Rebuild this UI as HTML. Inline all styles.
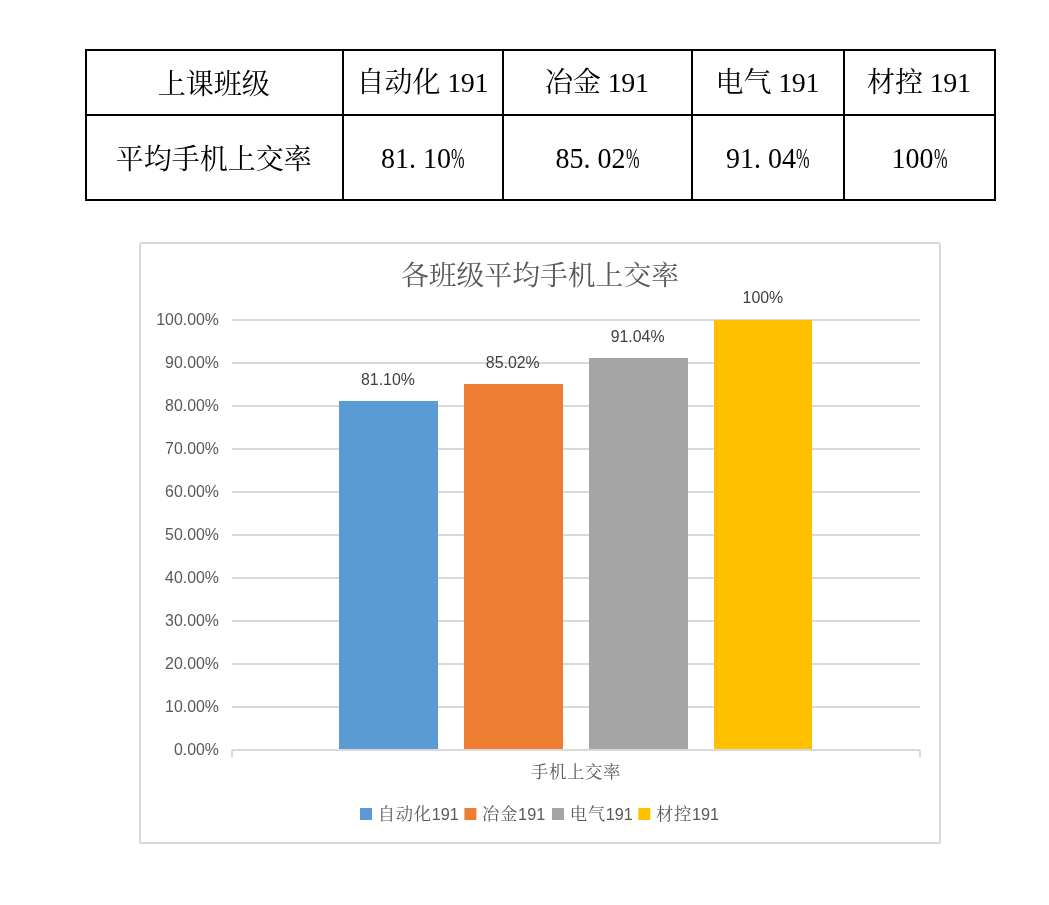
<!DOCTYPE html>
<html lang="zh-CN"><head><meta charset="utf-8"><title>各班级平均手机上交率</title>
<style>
html,body{margin:0;padding:0;background:#fff}
body{width:1049px;height:905px;position:relative;overflow:hidden;font-family:"Liberation Serif","Noto Serif CJK SC",serif}
.c{position:absolute;box-sizing:border-box;border:2px solid #000;display:flex;align-items:center;justify-content:center;font-size:28px;color:#000;white-space:pre}
.c .t{display:block;line-height:28px;transform:translate(-0.7px,-0.6px);font-family:"Noto Serif CJK SC","Liberation Serif",serif;font-weight:400}
.c .t.mm{transform:translate(0px,-0.2px)}
.tn{font-family:"Liberation Serif",serif;letter-spacing:-0.4px}
.m{display:inline-block;width:14px;text-align:center;font-family:"Liberation Serif",serif;transform:scaleY(1.06);transform-origin:50% 78%}
.m.d{text-align:left}
.m.p{transform:scale(.58,1.06);transform-origin:0 78%;text-align:left}
svg{position:absolute;left:0;top:0}
svg text{font-family:"Liberation Sans","Noto Serif CJK SC",sans-serif;font-size:15.9px;fill:#595959}
svg .g line{stroke:#d9d9d9;stroke-width:2}
svg .dl text{fill:#404040}
svg .zh{font-family:"Noto Serif CJK SC",serif;font-size:17.33px;letter-spacing:0.67px}
svg .lt{font-size:16.3px}
svg text.title{font-family:"Noto Serif CJK SC",serif;font-size:27.8px}
svg text.cat{font-family:"Noto Serif CJK SC",serif;font-size:17.33px;letter-spacing:0.67px}
</style></head><body>
<div class="c r1" style="left:85px;top:49px;width:259px;height:67px"><span class="t">上课班级</span></div>
<div class="c r2" style="left:85px;top:114px;width:259px;height:87px"><span class="t">平均手机上交率</span></div>
<div class="c r1" style="left:342px;top:49px;width:162px;height:67px"><span class="t">自动化<span class="tn"> 191</span></span></div>
<div class="c r2" style="left:342px;top:114px;width:162px;height:87px"><span class="t mm"><span class="m">8</span><span class="m">1</span><span class="m d">.</span><span class="m">1</span><span class="m">0</span><span class="m p">%</span></span></div>
<div class="c r1" style="left:502px;top:49px;width:191px;height:67px"><span class="t">冶金<span class="tn"> 191</span></span></div>
<div class="c r2" style="left:502px;top:114px;width:191px;height:87px"><span class="t mm"><span class="m">8</span><span class="m">5</span><span class="m d">.</span><span class="m">0</span><span class="m">2</span><span class="m p">%</span></span></div>
<div class="c r1" style="left:691px;top:49px;width:154px;height:67px"><span class="t">电气<span class="tn"> 191</span></span></div>
<div class="c r2" style="left:691px;top:114px;width:154px;height:87px"><span class="t mm"><span class="m">9</span><span class="m">1</span><span class="m d">.</span><span class="m">0</span><span class="m">4</span><span class="m p">%</span></span></div>
<div class="c r1" style="left:843px;top:49px;width:153px;height:67px"><span class="t">材控<span class="tn"> 191</span></span></div>
<div class="c r2" style="left:843px;top:114px;width:153px;height:87px"><span class="t mm"><span class="m">1</span><span class="m">0</span><span class="m">0</span><span class="m p">%</span></span></div>

<svg width="1049" height="905" viewBox="0 0 1049 905">
<rect x="140" y="243" width="800" height="600" rx="1.5" fill="#fff" stroke="#d9d9d9" stroke-width="2"/>
<text class="title" x="540" y="285" text-anchor="middle">各班级平均手机上交率</text>
<g class="g"><line x1="232" x2="920" y1="320" y2="320"/><line x1="232" x2="920" y1="363" y2="363"/><line x1="232" x2="920" y1="406" y2="406"/><line x1="232" x2="920" y1="449" y2="449"/><line x1="232" x2="920" y1="492" y2="492"/><line x1="232" x2="920" y1="535" y2="535"/><line x1="232" x2="920" y1="578" y2="578"/><line x1="232" x2="920" y1="621" y2="621"/><line x1="232" x2="920" y1="664" y2="664"/><line x1="232" x2="920" y1="707" y2="707"/><line x1="232" x2="920" y1="750" y2="750"/></g>
<g><rect x="339" y="401" width="99" height="348" fill="#5B9BD5"/><rect x="464" y="384" width="99" height="365" fill="#ED7D31"/><rect x="589" y="358" width="99" height="391" fill="#A5A5A5"/><rect x="714" y="320" width="98" height="429" fill="#FFC000"/></g>
<g class="g"><line x1="232" x2="920" y1="750" y2="750"/><line x1="232" x2="232" y1="750" y2="757"/><line x1="920" x2="920" y1="750" y2="757"/></g>
<g class="yl"><text transform="translate(219,324.8)" text-anchor="end">100.00%</text><text transform="translate(219,367.8)" text-anchor="end">90.00%</text><text transform="translate(219,410.8)" text-anchor="end">80.00%</text><text transform="translate(219,453.8)" text-anchor="end">70.00%</text><text transform="translate(219,496.8)" text-anchor="end">60.00%</text><text transform="translate(219,539.8)" text-anchor="end">50.00%</text><text transform="translate(219,582.8)" text-anchor="end">40.00%</text><text transform="translate(219,625.8)" text-anchor="end">30.00%</text><text transform="translate(219,668.8)" text-anchor="end">20.00%</text><text transform="translate(219,711.8)" text-anchor="end">10.00%</text><text transform="translate(219,754.8)" text-anchor="end">0.00%</text></g>
<g class="dl"><text transform="translate(387.97,385.10)" text-anchor="middle">81.10%</text><text transform="translate(512.79,368.20)" text-anchor="middle">85.02%</text><text transform="translate(637.61,342.30)" text-anchor="middle">91.04%</text><text transform="translate(762.93,303.10)" text-anchor="middle">100%</text></g>
<text class="cat" x="576" y="778" text-anchor="middle">手机上交率</text>
<g><rect x="360" y="808" width="12" height="12" fill="#5B9BD5"/><text x="377.7" y="820" class="lg"><tspan class="zh">自动化</tspan><tspan class="lt">191</tspan></text><rect x="464.4" y="808" width="12" height="12" fill="#ED7D31"/><text x="482.09999999999997" y="820" class="lg"><tspan class="zh">冶金</tspan><tspan class="lt">191</tspan></text><rect x="552" y="808" width="12" height="12" fill="#A5A5A5"/><text x="569.7" y="820" class="lg"><tspan class="zh">电气</tspan><tspan class="lt">191</tspan></text><rect x="638.3" y="808" width="12" height="12" fill="#FFC000"/><text x="656.0" y="820" class="lg"><tspan class="zh">材控</tspan><tspan class="lt">191</tspan></text></g>
</svg>
</body></html>
